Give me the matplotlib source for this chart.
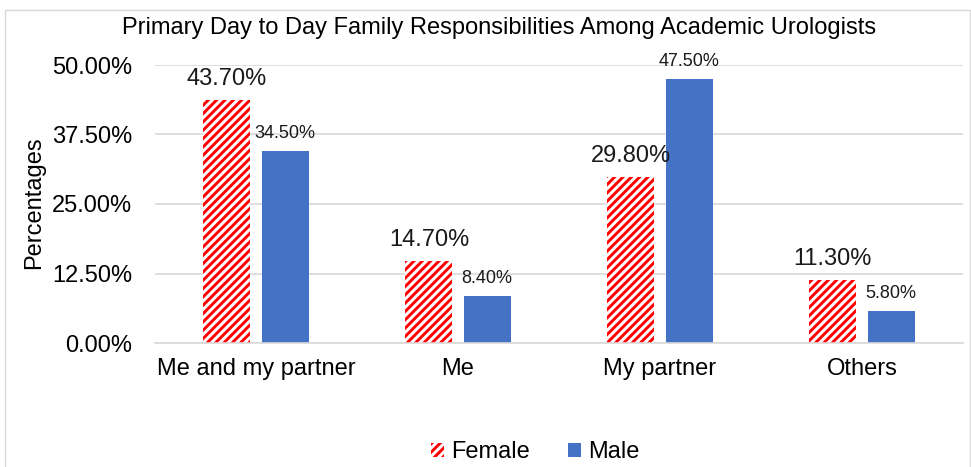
import matplotlib
matplotlib.use("Agg")
import matplotlib.pyplot as plt
import numpy as np
from matplotlib.patches import Rectangle

categories = ["Me and my partner", "Me", "My partner", "Others"]
female = [43.70, 14.70, 29.80, 11.30]
male = [34.50, 8.40, 47.50, 5.80]
yticks = [0, 12.5, 25, 37.5, 50]
ytick_labels = ["0.00%", "12.50%", "25.00%", "37.50%", "50.00%"]

plt.rcParams['font.family'] = ['Liberation Sans', 'DejaVu Sans']
plt.rcParams['hatch.linewidth'] = 2.1

fig = plt.figure(figsize=(9.71, 4.67), dpi=100)
fig.patches.append(Rectangle((5/971, -0.1), 965/971, 1 - 10/467 + 0.1, transform=fig.transFigure,
                             fill=False, edgecolor='#d9d9d9', linewidth=1.0))
ax = fig.add_axes([155/971, 1 - 343/467, 808/971, (343 - 65)/467])

x = np.arange(len(categories))
w = 0.232
off = 0.144
bf = ax.bar(x - off, female, w, color='white', edgecolor='#ff0000', hatch='////', linewidth=0, label='Female')
bm = ax.bar(x + off, male, w, color='#4472c4', label='Male')

for xi, v in zip(x, female):
    ax.annotate(f"{v:.2f}%", (xi - off, v), xytext=(0, 11), textcoords='offset points',
                ha='center', va='baseline', fontsize=17, color='#1a1a1a')
for xi, v in zip(x, male):
    ax.annotate(f"{v:.2f}%", (xi + off, v), xytext=(0, 9.5), textcoords='offset points',
                ha='center', va='baseline', fontsize=13, color='#1a1a1a')

ax.set_xlim(-0.5, 3.5)
ax.set_ylim(0, 50)
ax.set_yticks(yticks)
ax.set_yticklabels(ytick_labels, fontsize=17)
ax.set_xticks(x)
ax.set_xticklabels(categories, fontsize=17)
ax.tick_params(length=0)
ax.tick_params(axis='x', pad=11)
ax.tick_params(axis='y', pad=16.5)
ax.yaxis.grid(True, color='#d9d9d9', linewidth=1.2)
ax.set_axisbelow(True)
for s in ['top', 'right', 'left']:
    ax.spines[s].set_visible(False)
ax.spines['bottom'].set_color('#d9d9d9')
ax.spines['bottom'].set_linewidth(1.2)

fig.text(34/971, 1 - 203/467, "Percentages", rotation=90, ha='center', va='center', fontsize=17)
fig.text(499/971, 1 - 28/467, "Primary Day to Day Family Responsibilities Among Academic Urologists",
         ha='center', va='center', fontsize=17)

fig.legend(handles=[bf, bm], loc='center', bbox_to_anchor=(535/971, 1 - 452/467), ncol=2, frameon=False,
           fontsize=17, handlelength=0.55, handleheight=0.55, columnspacing=1.6, handletextpad=0.3)

fig.savefig("out.png", dpi=100)
